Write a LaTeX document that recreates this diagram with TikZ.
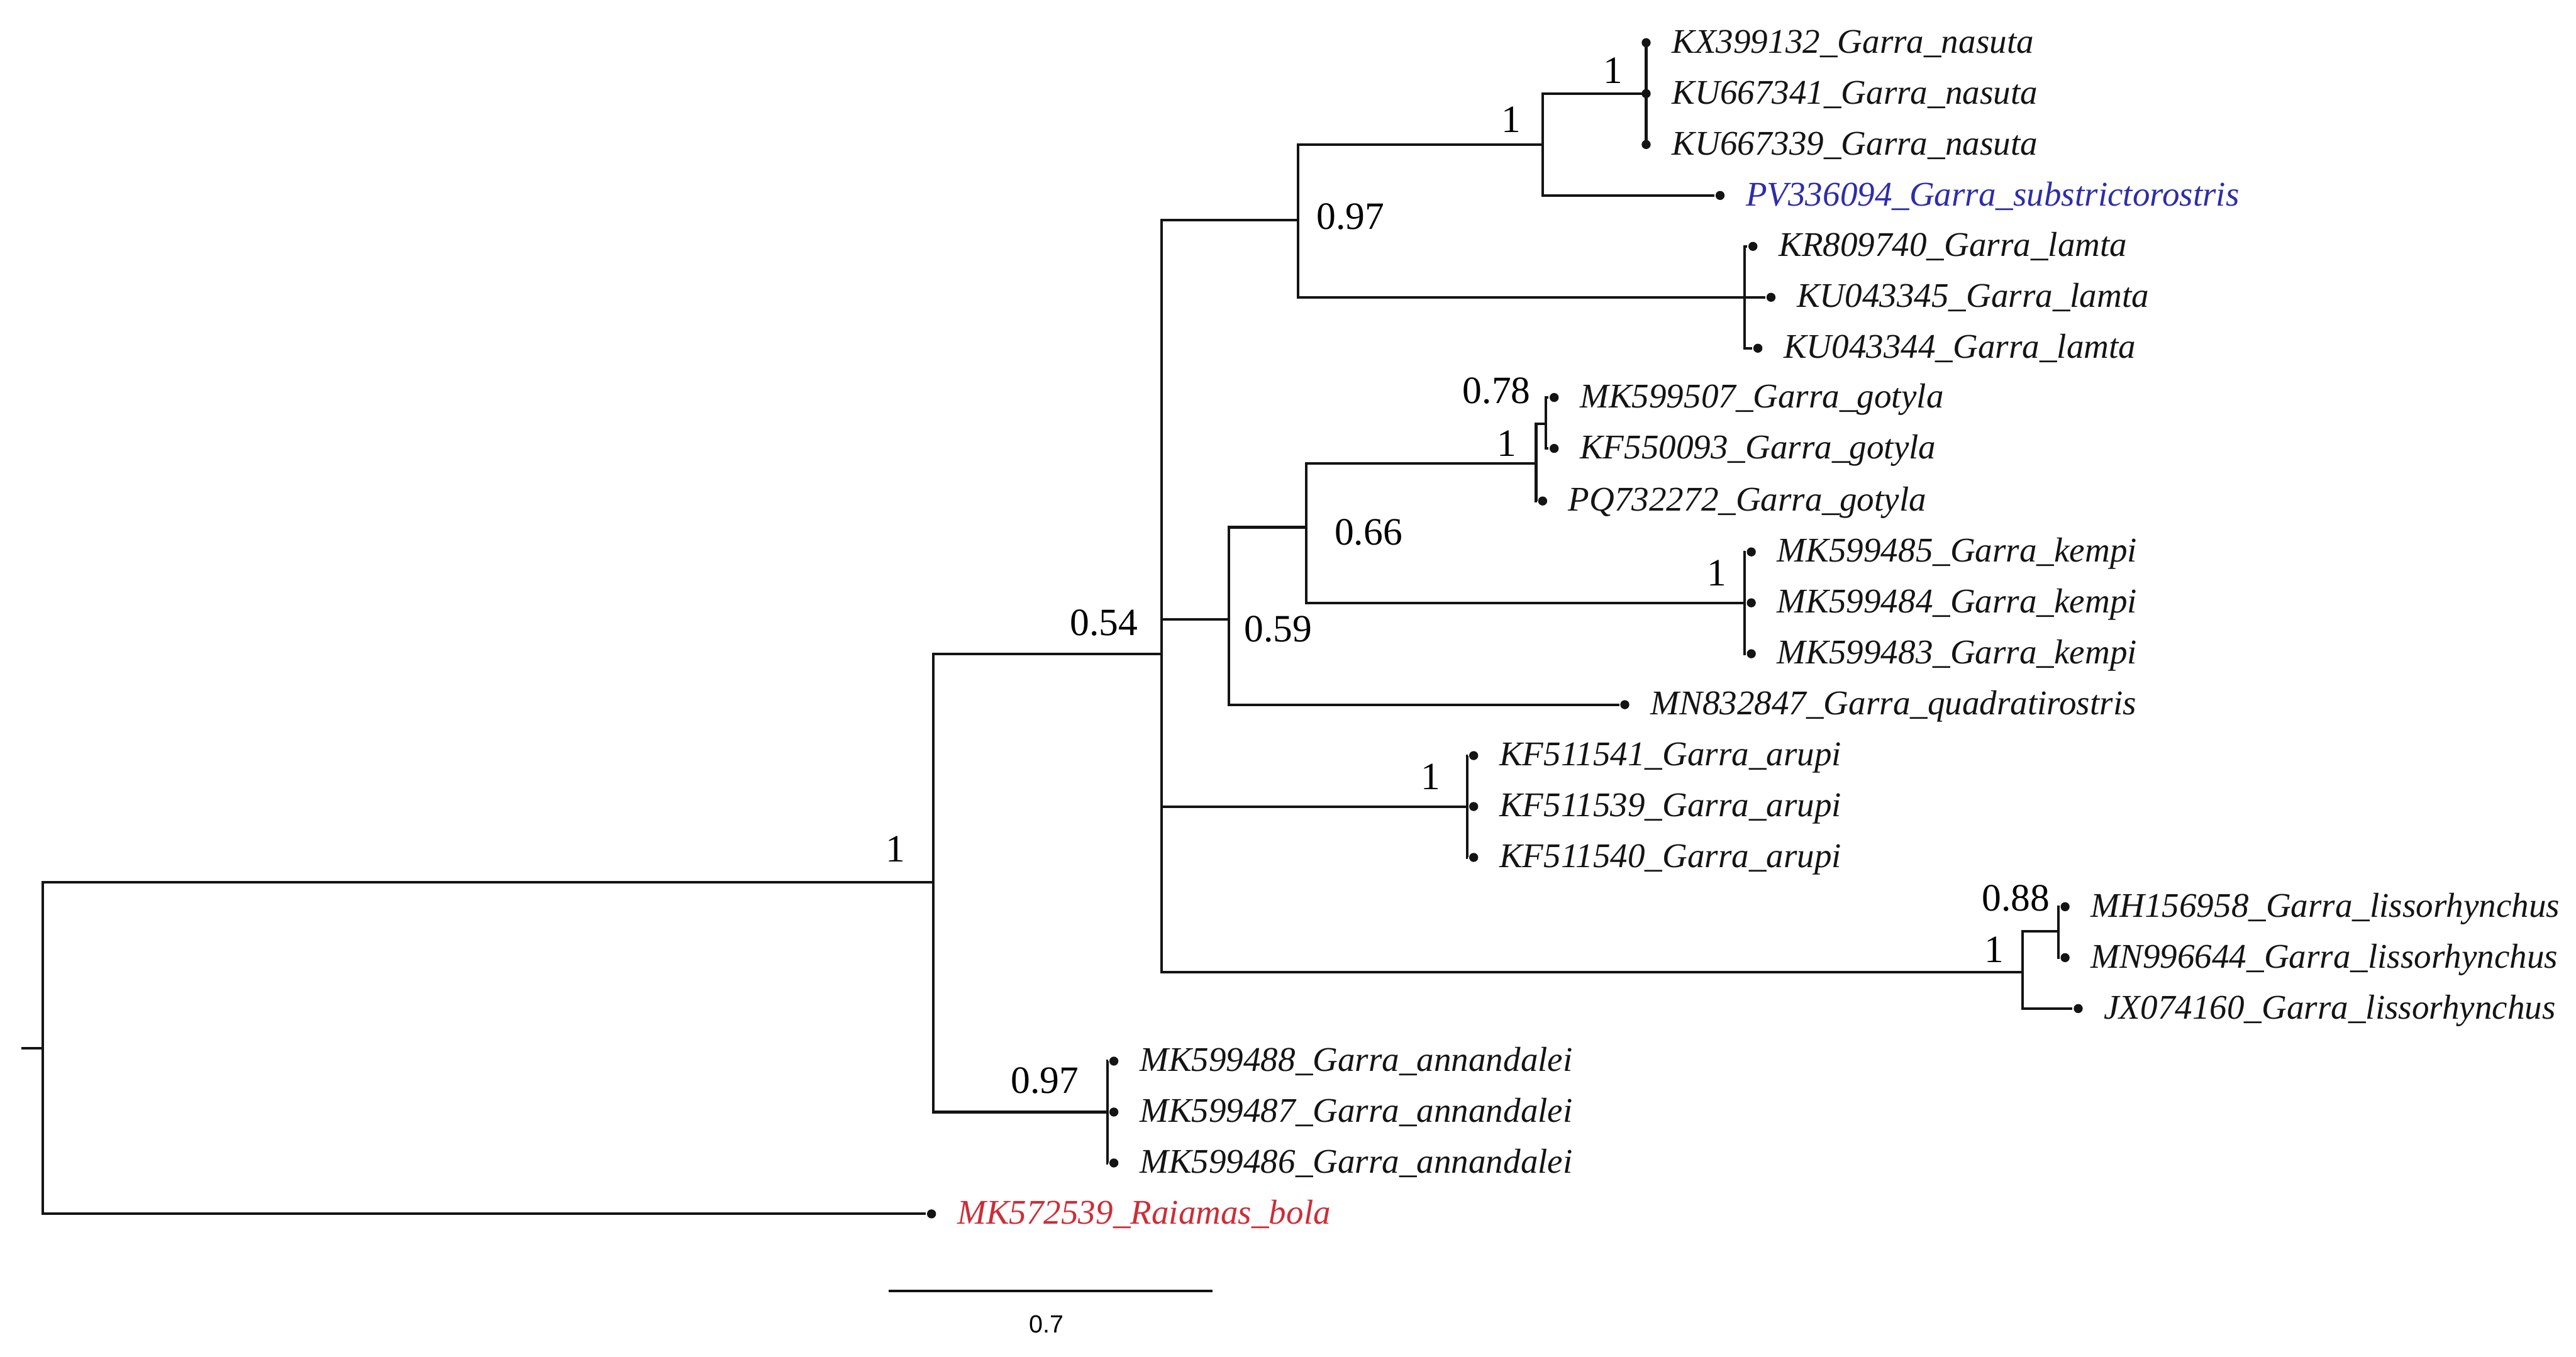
\documentclass[tikz,border=0pt]{standalone}
\usepackage{fontspec}
\setmainfont{Liberation Serif}
\newfontfamily\barfont{Liberation Sans}
\usepackage{xcolor}
\usepackage{tikz}
\definecolor{treeblack}{RGB}{20,20,20}
\definecolor{newblue}{RGB}{45,45,170}
\definecolor{outred}{RGB}{205,45,55}
\tikzset{
  branch/.style={draw=treeblack,line width=0.45pt},
  tipdot/.style={circle,fill=treeblack,inner sep=0pt,minimum size=0.55mm},
  tiplab/.style={anchor=base west,inner sep=0pt,font=\fontsize{6}{7}\selectfont\itshape},
  supp/.style={inner sep=0pt,font=\fontsize{6.7}{8}\selectfont},
  barlab/.style={inner sep=0pt,font=\fontsize{4.3}{5}\selectfont\barfont},
}

\begin{document}
\begin{tikzpicture}[x=0.1mm,y=-0.1mm]
\useasboundingbox (0,0) rectangle (1568,826);

% ============ internal nodes ============
\coordinate (stub) at (13,638);
\coordinate (root) at (26,638);
\coordinate (nA) at (568,537);
\coordinate (nB) at (707,398);
\coordinate (nC) at (790,134);
\coordinate (nD) at (939,88);
\coordinate (nE) at (1002,57);
\coordinate (nF) at (1062,181);
\coordinate (nG) at (748,377);
\coordinate (nH) at (795,321);
\coordinate (nI) at (935,282);
\coordinate (nK) at (941,258);
\coordinate (nJ) at (1062,367);
\coordinate (nR) at (893,491);
\coordinate (nL) at (1231,592);
\coordinate (nM) at (1253,567);
\coordinate (nN) at (674,677);

% ============ tips: dot + label ============
\foreach \n/\x/\y/\lab/\col in {%
  t1/1002/26/{KX399132\_Garra\_nasuta}/treeblack,
  t2/1002/57/{KU667341\_Garra\_nasuta}/treeblack,
  t3/1002/88/{KU667339\_Garra\_nasuta}/treeblack,
  t4/1047/119/{PV336094\_Garra\_substrictorostris}/newblue,
  t5/1067/150/{KR809740\_Garra\_lamta}/treeblack,
  t6/1078/181/{KU043345\_Garra\_lamta}/treeblack,
  t7/1070/212/{KU043344\_Garra\_lamta}/treeblack,
  t8/946/242/{MK599507\_Garra\_gotyla}/treeblack,
  t9/946/273/{KF550093\_Garra\_gotyla}/treeblack,
  t10/939/305/{PQ732272\_Garra\_gotyla}/treeblack,
  t11/1066/336/{MK599485\_Garra\_kempi}/treeblack,
  t12/1066/367/{MK599484\_Garra\_kempi}/treeblack,
  t13/1066/398/{MK599483\_Garra\_kempi}/treeblack,
  t14/989/429/{MN832847\_Garra\_quadratirostris}/treeblack,
  t15/897/460/{KF511541\_Garra\_arupi}/treeblack,
  t16/897/491/{KF511539\_Garra\_arupi}/treeblack,
  t17/897/522/{KF511540\_Garra\_arupi}/treeblack,
  t18/1257/552/{MH156958\_Garra\_lissorhynchus}/treeblack,
  t19/1257/583/{MN996644\_Garra\_lissorhynchus}/treeblack,
  t20/1265/614/{JX074160\_Garra\_lissorhynchus}/treeblack,
  t21/678/646/{MK599488\_Garra\_annandalei}/treeblack,
  t22/678/677/{MK599487\_Garra\_annandalei}/treeblack,
  t23/678/708/{MK599486\_Garra\_annandalei}/treeblack,
  t24/567/739/{MK572539\_Raiamas\_bola}/outred} {
  \node[tipdot] (\n) at (\x,\y) {};
  \node[tiplab,text=\col] (\n-l) at ([xshift=1.5mm,yshift=-0.62mm]\n.center) {\lab};
}

% ============ branches ============
\draw[branch] (stub) -- (root);
\foreach \p/\c in {root/nA, root/t24, nA/nB, nA/nN,
  nB/nC, nB/nG, nB/nR, nB/nL,
  nC/nD, nC/nF, nD/nE, nD/t4, nE/t1, nE/t2, nE/t3,
  nF/t5, nF/t6, nF/t7,
  nG/nH, nG/t14, nH/nI, nH/nJ, nI/nK, nI/t10, nK/t8, nK/t9,
  nJ/t11, nJ/t12, nJ/t13,
  nR/t15, nR/t16, nR/t17,
  nL/nM, nL/t20, nM/t18, nM/t19,
  nN/t21, nN/t22, nN/t23}
  \draw[branch] (\p) |- (\c);

% ============ support values ============
\foreach \s/\x/\y/\v in {s1/982/43/1, s2/920/73/1, s3/822/132/0.97,
  s4/911/238/0.78, s5/917/270/1, s6/833/324/0.66, s7/1045/349/1,
  s8/672/379/0.54, s9/778/383/0.59, s10/871/473/1, s11/545/517/1,
  s12/1227/547/0.88, s13/1214/578/1, s14/636/658/0.97}
  \node[supp] (\s) at (\x,\y) {\v};

% ============ scale bar ============
\coordinate (sbl) at (541,786);
\coordinate (sbr) at (738,786);
\draw[branch] (sbl) -- (sbr);
\node[barlab] (sbv) at (637,806) {0.7};
\end{tikzpicture}
\end{document}
